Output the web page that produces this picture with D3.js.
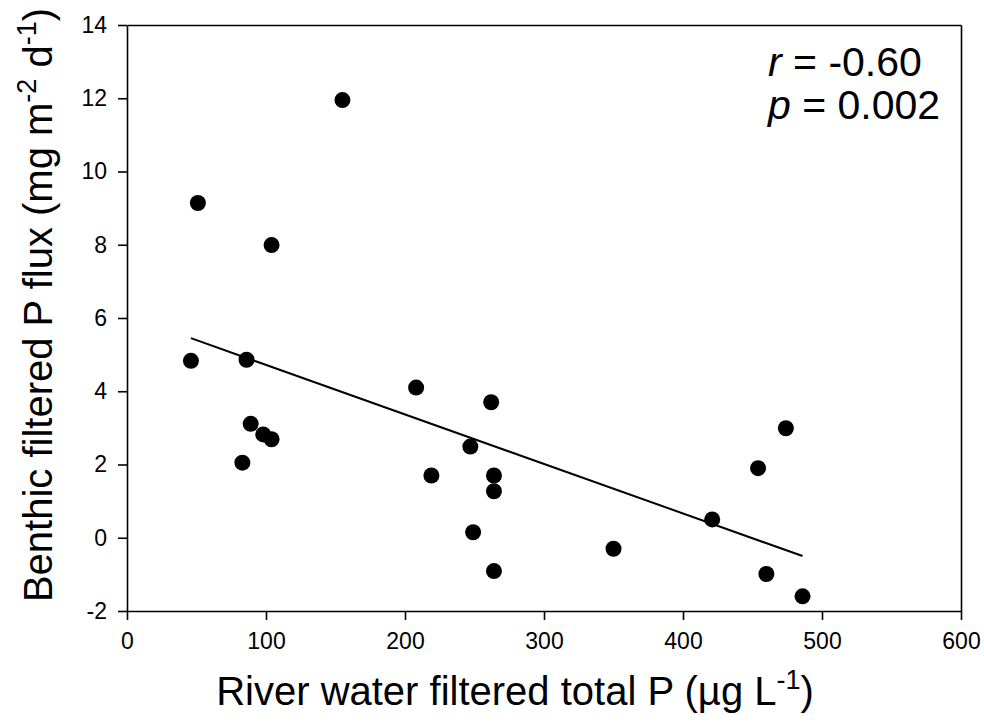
<!DOCTYPE html>
<meta charset="utf-8">
<style>
  body { margin: 0; background: #fff; }
  text { font-family: "Liberation Sans", Arial, sans-serif; fill: #000; }
  .axis path, .axis line { stroke: #000; stroke-width: 1.6; }
</style>
<body>
<div id="chart"></div>
<script src="https://d3js.org/d3.v7.min.js"></script>
<script>
  // river water filtered total P (ug/L) vs benthic filtered P flux
  var riverTP = [46, 51, 86, 83, 89, 98, 104, 104, 155, 208, 219, 247, 249, 262, 264, 264, 264, 350, 421, 454, 474, 460, 486];
  var benthicFlux = [4.83, 9.14, 4.86, 2.05, 3.11, 2.82, 2.69, 7.99, 11.95, 4.10, 1.70, 2.49, 0.15, 3.70, 1.70, 1.27, -0.91, -0.30, 0.50, 1.90, 2.99, -0.99, -1.60];

  // fitted line ends, as drawn
  var fitX = [46, 486];
  var fitY = [5.45, -0.50];

  var xTicks = [0, 100, 200, 300, 400, 500, 600];
  var yTicks = [-2, 0, 2, 4, 6, 8, 10, 12, 14];

  var W = 984, H = 727;
  var margin = { top: 25, right: 23, bottom: 116, left: 127 };
  var width = W - margin.left - margin.right;
  var height = H - margin.top - margin.bottom;

  var svg = d3.select("#chart").append("svg")
    .attr("width", W)
    .attr("height", H);

  var g = svg.append("g")
    .attr("transform", "translate(" + margin.left + "," + margin.top + ")");

  var x = d3.scaleLinear().domain([0, 600]).range([0, width]);
  var y = d3.scaleLinear().domain([-2, 14]).range([height, 0]);

  var xAxisG = g.append("g")
    .attr("class", "axis")
    .attr("transform", "translate(0," + height + ")")
    .call(d3.axisBottom(x).tickValues(xTicks).tickFormat(String)
      .tickSize(9).tickPadding(13).tickSizeOuter(0));

  var yAxisG = g.append("g")
    .attr("class", "axis")
    .call(d3.axisLeft(y).tickValues(yTicks).tickFormat(String)
      .tickSize(9).tickPadding(11).tickSizeOuter(0));

  [xAxisG, yAxisG].forEach(function (a) {
    a.attr("font-size", null).attr("font-family", null);
    a.selectAll("text").style("font-size", "23px");
  });

  // frame: top and right
  g.append("g")
    .attr("class", "axis")
    .call(d3.axisTop(x).tickValues([]).tickSizeOuter(0));
  g.append("g")
    .attr("class", "axis")
    .attr("transform", "translate(" + width + ",0)")
    .call(d3.axisRight(y).tickValues([]).tickSizeOuter(0));

  // regression line
  var line = d3.line()
    .x(function (d) { return x(d[0]); })
    .y(function (d) { return y(d[1]); });

  g.append("path")
    .datum(d3.zip(fitX, fitY))
    .attr("d", line)
    .attr("fill", "none")
    .attr("stroke", "#000")
    .attr("stroke-width", 2);

  g.selectAll(".dot")
    .data(d3.zip(riverTP, benthicFlux))
    .enter()
    .append("circle")
    .attr("class", "dot")
    .attr("cx", function (d) { return x(d[0]); })
    .attr("cy", function (d) { return y(d[1]); })
    .attr("r", 8)
    .attr("fill", "#000");

  // stats annotation
  var stats = svg.append("g").style("font-size", "41px");
  var t1 = stats.append("text").attr("x", 768).attr("y", 76);
  t1.append("tspan").style("font-style", "italic").text("r");
  t1.append("tspan").text(" = -0.60");
  var t2 = stats.append("text").attr("x", 768).attr("y", 119);
  t2.append("tspan").style("font-style", "italic").text("p");
  t2.append("tspan").text(" = 0.002");

  // x title
  var xt = svg.append("text")
    .attr("x", 515)
    .attr("y", 705)
    .attr("text-anchor", "middle")
    .style("font-size", "40px");
  xt.append("tspan").text("River water filtered total P (µg L");
  xt.append("tspan").attr("dy", -16).style("font-size", "27px").text("-1");
  xt.append("tspan").attr("dy", 16).text(")");

  // y title
  var yt = svg.append("text")
    .attr("transform", "translate(52," + 305 + ") rotate(-90)")
    .attr("text-anchor", "middle")
    .style("font-size", "40px");
  yt.append("tspan").text("Benthic filtered P flux (mg m");
  yt.append("tspan").attr("dy", -16).style("font-size", "27px").text("-2");
  yt.append("tspan").attr("dy", 16).text(" d");
  yt.append("tspan").attr("dy", -16).style("font-size", "27px").text("-1");
  yt.append("tspan").attr("dy", 16).text(")");
</script>
</body>
